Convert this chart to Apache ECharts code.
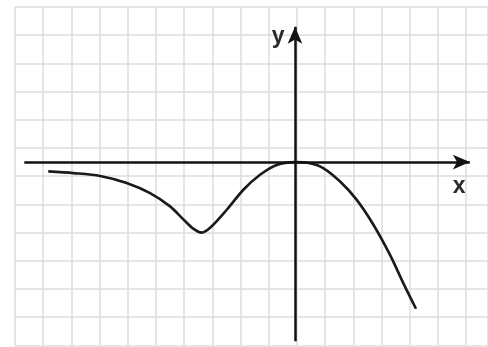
<!DOCTYPE html>
<html>
<head>
<meta charset="utf-8">
<style>html,body{margin:0;padding:0;background:#fff}#main{width:488px;height:347px}</style>
<script src="https://cdn.jsdelivr.net/npm/echarts@6/dist/echarts.min.js"></script>
</head>
<body>
<div id="main"></div>
<script>
// curve, one grid cell = 1 unit
var curveX = [-8.75, -7.86, -6.91, -5.97, -5.14, -4.43, -3.96, -3.61, -3.31, -3.01, -2.42, -1.83, -1.24, -0.65, 0, 0.53, 1.00, 1.60, 2.19, 2.78, 3.37, 3.84, 4.29]
var curveY = [-0.33, -0.39, -0.49, -0.74, -1.10, -1.57, -2.03, -2.36, -2.50, -2.33, -1.69, -0.98, -0.45, -0.10, 0, -0.04, -0.21, -0.69, -1.34, -2.22, -3.29, -4.29, -5.20]
// ends of the drawn axes
var xAxisEnds = [-9.6, 6.2]
var yAxisEnds = [-6.35, 4.8]
var axisNames = ['x', 'y']
var namePos = [[5.82, -0.87], [-0.6, 4.45]]

var unit = 28.2  // px per cell
var gLeft = 15, gRight = 0, gTop = 7
var originPx = 295
var gWidth = 488 - gLeft - gRight

var myChart = echarts.init(document.getElementById('main'))

var option = {
    animation: false,
    backgroundColor: '#fff',
    grid: {left: gLeft, right: gRight, top: gTop, height: 12 * unit},
    xAxis: [
        {type: 'value', show: false, min: (gLeft - originPx) / unit, max: (gLeft - originPx) / unit + gWidth / unit},
        // paper grid only
        {type: 'value', min: -10, max: -10 + gWidth / unit, interval: 1,
            axisLine: {show: false}, axisTick: {show: false}, axisLabel: {show: false},
            splitLine: {show: true, lineStyle: {color: '#dcdcdc', width: 1.5}}}
    ],
    yAxis: [
        {type: 'value', show: false, min: -6.5, max: 5.5},
        {type: 'value', min: -6, max: 6, interval: 1,
            axisLine: {show: false}, axisTick: {show: false}, axisLabel: {show: false},
            splitLine: {show: true, lineStyle: {color: '#dcdcdc', width: 1.5}}}
    ],
    series: [{
        type: 'line',
        xAxisIndex: 0,
        yAxisIndex: 0,
        smooth: 0.3,
        showSymbol: false,
        data: curveX.map(function (x, i) { return [x, curveY[i]] }),
        lineStyle: {color: '#1a1a1a', width: 2.6},
        markLine: {
            silent: true,
            symbol: ['none', 'arrow'],
            symbolSize: [11, 17],
            label: {show: false},
            lineStyle: {type: 'solid', color: '#111', width: 2.5},
            data: [
                [{coord: [xAxisEnds[0], 0]}, {coord: [xAxisEnds[1], 0]}],
                [{coord: [0, yAxisEnds[0]]}, {coord: [0, yAxisEnds[1]]}]
            ]
        },
        markPoint: {
            silent: true,
            symbol: 'circle',
            symbolSize: 1,
            itemStyle: {color: 'rgba(0,0,0,0)'},
            label: {show: true, position: 'inside', formatter: '{b}',
                color: '#2b2b2b', fontSize: 23, fontWeight: 'bold', fontFamily: 'Liberation Sans'},
            data: axisNames.map(function (n, i) { return {name: n, coord: namePos[i]} })
        }
    }]
}
myChart.setOption(option)
</script>
</body>
</html>
